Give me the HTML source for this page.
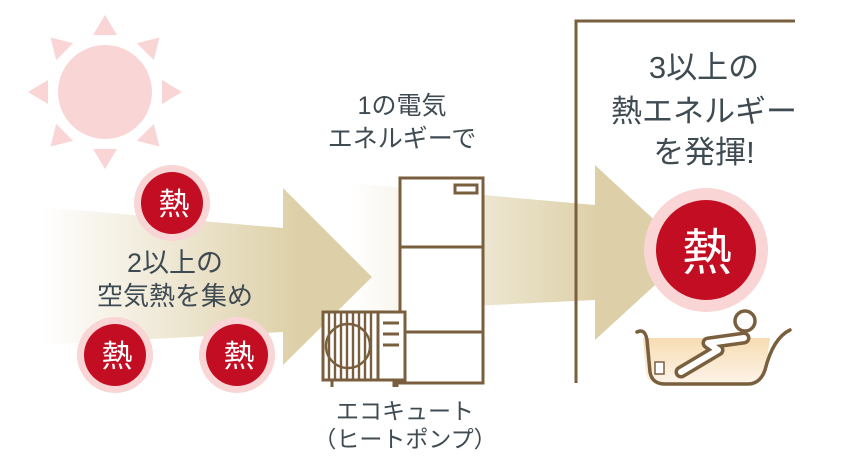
<!DOCTYPE html>
<html><head><meta charset="utf-8"><style>
html,body{margin:0;padding:0;background:#fff;}
svg{display:block;}
text{font-family:"Liberation Sans","Noto Sans CJK JP",sans-serif;}
.t{fill:#3f4b52;text-anchor:middle;}
.h{fill:#fff;text-anchor:middle;}
</style></head><body>
<svg width="860" height="460" viewBox="0 0 860 460" xmlns="http://www.w3.org/2000/svg">
<defs>
<linearGradient id="g1" x1="40" y1="0" x2="300" y2="0" gradientUnits="userSpaceOnUse">
<stop offset="0" stop-color="#ddd0a8" stop-opacity="0"/><stop offset="1" stop-color="#ddd0a8"/></linearGradient>
<linearGradient id="g2" x1="350" y1="0" x2="600" y2="0" gradientUnits="userSpaceOnUse">
<stop offset="0" stop-color="#ddd0a8" stop-opacity="0"/><stop offset="1" stop-color="#ddd0a8"/></linearGradient>
<linearGradient id="w" x1="0" y1="338" x2="0" y2="385" gradientUnits="userSpaceOnUse">
<stop offset="0" stop-color="#f7dcb2"/><stop offset="1" stop-color="#fdf4ea"/></linearGradient>
</defs>
<!-- sun -->
<g fill="#f9d5d5">
<circle cx="105" cy="92" r="47"/>
<g id="ray"><polygon points="105,15 93,35 117,35"/></g>
<use href="#ray" transform="rotate(45 105 92)"/>
<use href="#ray" transform="rotate(90 105 92)"/>
<use href="#ray" transform="rotate(135 105 92)"/>
<use href="#ray" transform="rotate(180 105 92)"/>
<use href="#ray" transform="rotate(225 105 92)"/>
<use href="#ray" transform="rotate(270 105 92)"/>
<use href="#ray" transform="rotate(315 105 92)"/>
</g>
<!-- arrow 1 -->
<polygon points="40,207 283,228 283,188 372,277 283,365 283,332 40,345" fill="url(#g1)"/>
<!-- arrow 2 -->
<polygon points="350,183 595,205 595,165 690,253 595,340 595,300 350,312" fill="url(#g2)"/>
<!-- wall -->
<path d="M576,383 V21 H795" fill="none" stroke="#7a5f3e" stroke-width="3"/>
<!-- cabinet -->
<g fill="none" stroke="#7a5f3e" stroke-width="3">
<rect x="400" y="178" width="83" height="205" fill="#fff"/>
<line x1="400" y1="247" x2="483" y2="247"/>
<line x1="400" y1="332" x2="483" y2="332"/>
<rect x="455" y="185" width="22" height="8"/>
<rect x="323" y="312" width="82" height="68" fill="#fff"/>
<line x1="378" y1="312" x2="378" y2="380"/>
<path d="M329,312V380M335,312V380M341,312V380M347,312V380M353,312V380M359,312V380M365,312V380M371,312V380" stroke-width="2.4"/>
<circle cx="348" cy="346" r="22" stroke-width="2.4"/>
<path d="M383,323H399M383,334H399M383,345H399"/>
<path d="M332,380V387M394,380V387M397,380V387"/>
</g>
<!-- heat circles -->
<circle cx="172" cy="203" r="38" fill="#f9d5d5"/><circle cx="172" cy="203" r="31" fill="#c30d23"/>
<circle cx="115" cy="355" r="38" fill="#f9d5d5"/><circle cx="115" cy="355" r="31" fill="#c30d23"/>
<circle cx="237" cy="355" r="38" fill="#f9d5d5"/><circle cx="237" cy="355" r="31" fill="#c30d23"/>
<circle cx="706" cy="250" r="62" fill="#f9d5d5"/><circle cx="706" cy="250" r="50" fill="#c30d23"/>
<text class="h" x="174" y="215" font-size="31">熱</text>
<text class="h" x="117" y="367" font-size="31">熱</text>
<text class="h" x="239" y="367" font-size="31">熱</text>
<text class="h" x="707" y="270" font-size="50">熱</text>
<!-- bathtub -->
<path d="M643,338 H770 Q766,372 760,378 Q755,384 745,384 H660 Q648,384 646,374 Z" fill="url(#w)"/>
<path d="M637,332 Q645,328 647,340 L650,372 Q652,384 665,384 H748 Q760,384 765,370 Q773,338 790,330" fill="none" stroke="#7a5f3e" stroke-width="3.5" stroke-linecap="round"/>
<rect x="655" y="362" width="9" height="12" fill="#fff" stroke="#7a5f3e" stroke-width="1.5"/>
<circle cx="745" cy="321" r="10" fill="#fff" stroke="#7a5f3e" stroke-width="3.5"/>
<path d="M681,372 L718,350 L708,343 L744,338" fill="none" stroke="#7a5f3e" stroke-width="13" stroke-linejoin="round" stroke-linecap="round"/>
<path d="M681,372 L718,350 L708,343 L744,338" fill="none" stroke="#fff" stroke-width="6" stroke-linejoin="round" stroke-linecap="round"/>
<!-- texts -->
<text x="175" y="272" font-size="27" class="t">2以上の</text>
<text x="175" y="305" font-size="26" class="t">空気熱を集め</text>
<text x="402" y="114" font-size="25" class="t">1の電気</text>
<text x="402" y="147" font-size="25" class="t">エネルギーで</text>
<text x="704" y="78" font-size="31" class="t">3以上の</text>
<text x="704" y="122" font-size="31" class="t">熱エネルギー</text>
<text x="704" y="163" font-size="31" class="t">を発揮!</text>
<text x="405" y="419" font-size="23" class="t">エコキュート</text>
<text x="405" y="447" font-size="23" class="t">（ヒートポンプ）</text>
</svg>
</body></html>
